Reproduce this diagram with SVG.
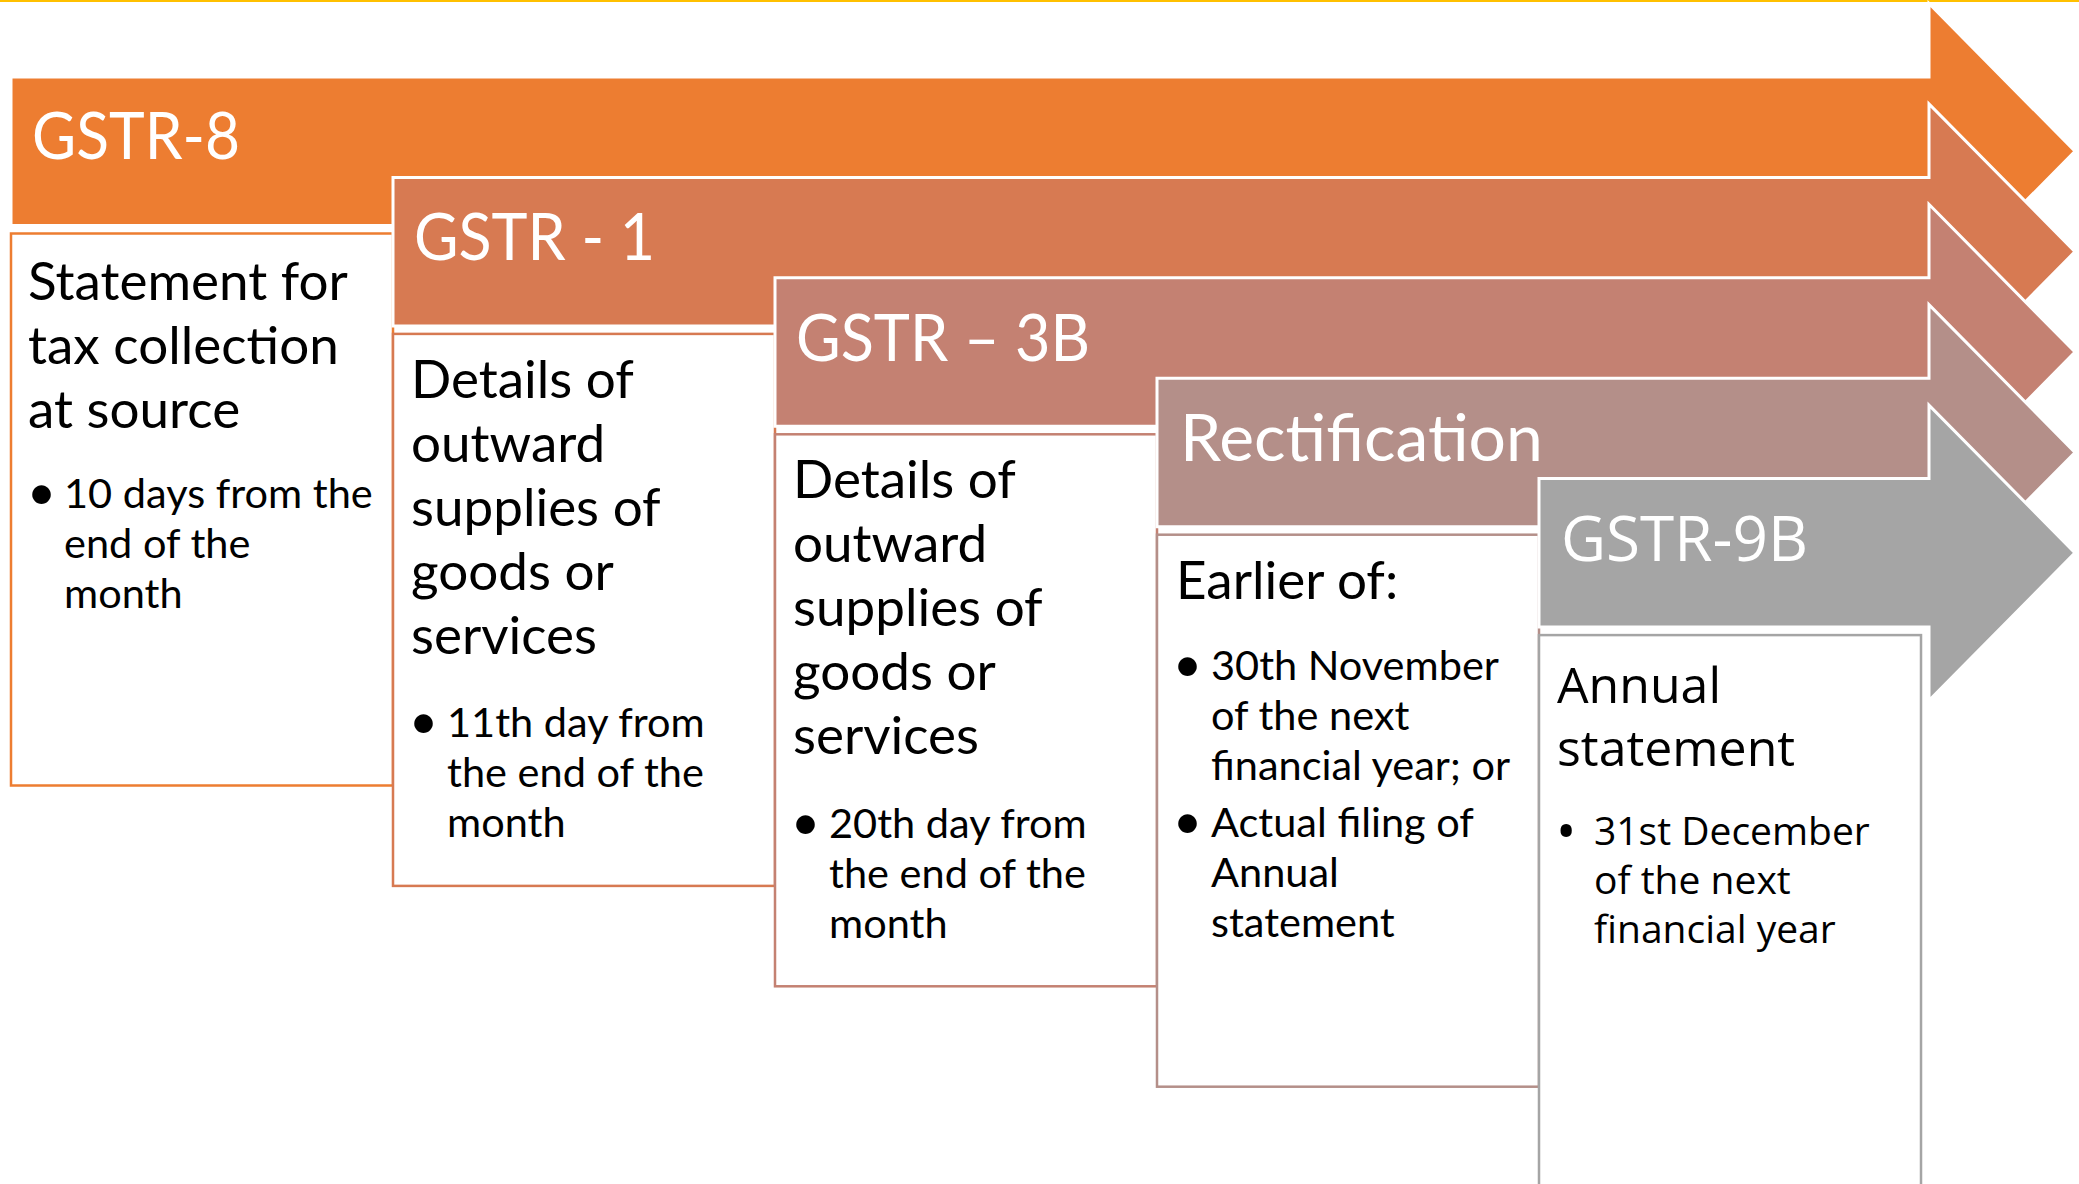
<svg xmlns="http://www.w3.org/2000/svg" width="2079" height="1184" viewBox="0 0 2079 1184">
<style>
.arrow{stroke:#FFFFFF;stroke-width:3;stroke-linejoin:miter}
.box{fill:#FFFFFF;stroke-width:2.5}
.hd{font-family:Lato,"Open Sans",sans-serif;font-size:66px;fill:#FFFFFF}
.hd2{font-family:"Open Sans","Noto Sans",sans-serif;font-size:62px;fill:#FFFFFF}
.tt{font-family:Lato,"Open Sans",sans-serif;font-size:53px;fill:#000000}
.bl{font-family:Lato,"Open Sans",sans-serif;font-size:41.5px;fill:#000000}
.tt2{font-family:"Open Sans","Noto Sans",sans-serif;font-size:50px;fill:#000000}
.bl2{font-family:"Open Sans","Noto Sans",sans-serif;font-size:39px;fill:#000000}
.dot{font-size:50px}
.dot2{font-size:54px}
</style>
<rect x="0" y="0" width="2079" height="1184" fill="#FFFFFF"/>
<rect x="0" y="0" width="2079" height="2" fill="#FFC000"/>
<g id="connectors"></g>
<g id="node-gstr8">
<path class="arrow" fill="#ED7D31" d="M11,77 H1929 V3.5 L2075,151.25 L1929,299 V225.5 H11 Z"/>
<rect class="box" x="11" y="233.5" width="382" height="552" stroke="#ED7D31"/>
<text class="hd" x="32" y="159" textLength="208" lengthAdjust="spacingAndGlyphs">GSTR-8</text>
<text class="tt"><tspan x="28" y="300">Statement for</tspan><tspan x="28" y="364">tax collection</tspan><tspan x="28" y="428">at source</tspan></text>
<text class="bl"><tspan class="dot" x="27" y="510">•</tspan><tspan x="64" y="508">10 days from the</tspan><tspan x="64" y="558">end of the</tspan><tspan x="64" y="608">month</tspan></text>
</g>
<g id="node-gstr1">
<path class="arrow" fill="#D77A52" d="M393,177.4 H1929 V103.9 L2075,251.65 L1929,399.4 V325.9 H393 Z"/>
<rect class="box" x="393" y="333.9" width="382" height="552" stroke="#D77A52"/>
<text class="hd" x="414" y="260" textLength="241" lengthAdjust="spacingAndGlyphs">GSTR - 1</text>
<text class="tt"><tspan x="411" y="398">Details of</tspan><tspan x="411" y="462">outward</tspan><tspan x="411" y="526">supplies of</tspan><tspan x="411" y="590">goods or</tspan><tspan x="411" y="654">services</tspan></text>
<text class="bl"><tspan class="dot" x="409" y="739">•</tspan><tspan x="447" y="737">11th day from</tspan><tspan x="447" y="787">the end of the</tspan><tspan x="447" y="837">month</tspan></text>
</g>
<g id="node-gstr3b">
<path class="arrow" fill="#C48172" d="M775,277.8 H1929 V204.3 L2075,352.05 L1929,499.8 V426.3 H775 Z"/>
<rect class="box" x="775" y="434.3" width="382" height="552" stroke="#C48172"/>
<text class="hd" x="796" y="361" textLength="294" lengthAdjust="spacingAndGlyphs">GSTR – 3B</text>
<text class="tt"><tspan x="793" y="498">Details of</tspan><tspan x="793" y="562">outward</tspan><tspan x="793" y="626">supplies of</tspan><tspan x="793" y="690">goods or</tspan><tspan x="793" y="754">services</tspan></text>
<text class="bl"><tspan class="dot" x="791" y="840">•</tspan><tspan x="829" y="838">20th day from</tspan><tspan x="829" y="888">the end of the</tspan><tspan x="829" y="938">month</tspan></text>
</g>
<g id="node-rectification">
<path class="arrow" fill="#B48F89" d="M1157,378.2 H1929 V304.7 L2075,452.45 L1929,600.2 V526.7 H1157 Z"/>
<rect class="box" x="1157" y="534.7" width="382" height="552" stroke="#B48F89"/>
<text class="hd" x="1180" y="461">Rectification</text>
<text class="tt"><tspan x="1176" y="599">Earlier of:</tspan></text>
<text class="bl"><tspan class="dot" x="1173" y="682">•</tspan><tspan x="1211" y="680">30th November</tspan><tspan x="1211" y="730">of the next</tspan><tspan x="1211" y="780">financial year; or</tspan><tspan class="dot" x="1173" y="839">•</tspan><tspan x="1211" y="837">Actual filing of</tspan><tspan x="1211" y="887">Annual</tspan><tspan x="1211" y="937">statement</tspan></text>
</g>
<g id="node-gstr9b">
<path class="arrow" fill="#A5A5A5" d="M1539,478.6 H1929 V405.1 L2075,552.85 L1929,700.6 V627.1 H1539 Z"/>
<rect class="box" x="1539" y="635.1" width="382" height="560" stroke="#A5A5A5"/>
<text class="hd2" x="1561" y="561">GSTR-9B</text>
<text class="tt2"><tspan x="1557" y="703">Annual</tspan><tspan x="1557" y="766">statement</tspan></text>
<text class="bl2"><tspan class="dot2" x="1556" y="851">•</tspan><tspan x="1594" y="845">31st December</tspan><tspan x="1594" y="894">of the next</tspan><tspan x="1594" y="943">financial year</tspan></text>
</g>
</svg>
